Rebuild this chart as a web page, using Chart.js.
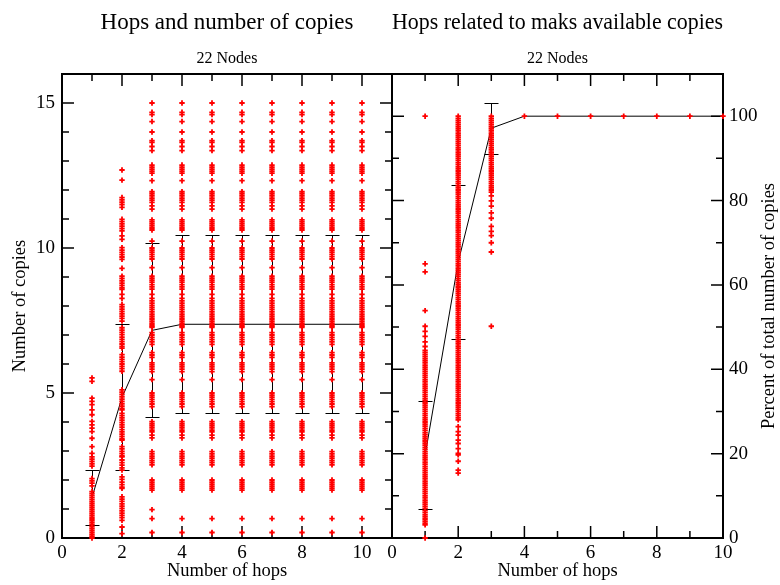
<!DOCTYPE html>
<html><head><meta charset="utf-8">
<script src="https://cdn.jsdelivr.net/npm/chart.js@4.4.1/dist/chart.umd.min.js"></script>
<style>
html,body{margin:0;padding:0;background:#fff;}
#wrap{position:relative;width:780px;height:585px;overflow:hidden;background:#fff;}
canvas{position:absolute;top:0;}
#c1{left:0;} #c2{left:360px;}
</style></head><body>
<div id="wrap"><canvas id="c1" width="393" height="585"></canvas><canvas id="c2" width="420" height="585"></canvas></div>
<script>
// ---------- data ----------
const hops = [1, 2, 3, 4, 5, 6, 7, 8, 9, 10];

// Left panel: number of copies observed at each hop count
const copiesHop1 = [5.52, 5.4, 4.82, 4.71, 4.6, 4.42, 4.25, 4.02, 3.9, 3.79, 3.67, 3.44, 3.15, 2.92, 2.8, 2.72, 2.64, 2.56, 2.48,
  2.05, 1.97, 1.89, 1.8, 1.6, 1.53, 1.46, 1.39, 1.32, 1.25, 1.18, 1.11, 1.04, 0.97, 0.9, 0.83, 0.76, 0.69, 0.62, 0.55,
  0.48, 0.41, 0.34, 0.27, 0.2, 0.13, 0.06, 0];
const copiesHop2 = [12.69, 12.34, 11.74, 11.66, 11.58, 11.5, 11.4, 10.99, 10.91, 10.83, 10.75, 10.67, 10.59, 10.42, 10.3,
  10.01, 9.93, 9.85, 9.77, 9.69, 9.61, 9.3, 9.03, 8.95, 8.87, 8.79, 8.71, 8.63, 8.57, 8.4, 8.26, 8.05, 7.97, 7.89, 7.81,
  7.73, 7.65, 7.57, 7.48, 7.25, 7.17, 7.09, 7.01, 6.93, 6.85, 6.77, 6.69, 6.61, 6.55, 6.32, 6.24, 6.16, 6.08, 6.0, 5.92,
  5.84, 5.75, 5.11, 5.03, 4.95, 4.87, 4.79, 4.71, 4.63, 4.55, 4.47, 4.42, 4.3, 4.22, 4.14, 4.06, 3.98, 3.9, 3.82, 3.74,
  3.66, 3.58, 3.5, 3.42, 3.38, 3.15, 3.07, 2.99, 2.91, 2.83, 2.8, 2.69, 2.6, 2.51, 2.42, 2.34, 2.11, 2.02, 1.93, 1.84,
  1.75, 1.71, 1.42, 1.34, 1.26, 1.18, 1.1, 1.02, 0.94, 0.86, 0.78, 0.7, 0.61, 0.38, 0.15];
const copiesHop3 = [15.0, 14.68, 14.6, 14.36, 14.0, 13.7, 13.64, 13.5, 13.36, 12.86, 12.79, 12.72, 12.65, 12.58, 12.32,
  11.94, 11.87, 11.8, 11.72, 11.65, 11.57, 11.45, 11.34, 10.97, 10.9, 10.83, 10.76, 10.69, 10.62, 10.24,
  10.0, 9.93, 9.86, 9.78, 9.7, 9.62, 9.32, 9.03, 8.96, 8.89, 8.82, 8.74, 8.66, 8.58, 8.4, 8.26,
  8.18, 8.1, 8.02, 7.95, 7.88, 7.8, 7.72, 7.65, 7.58, 7.52, 7.45, 7.38, 7.31, 7.26,
  7.08, 7.0, 6.92, 6.84, 6.76, 6.68, 6.39, 6.31, 6.23, 6.04, 5.97, 5.9, 5.82, 5.74, 5.46,
  5.0, 4.93, 4.86, 4.78, 4.7, 4.62, 4.53, 4.01, 3.94, 3.87, 3.8, 3.72, 3.66, 3.55, 3.45,
  2.98, 2.9, 2.82, 2.75, 2.67, 2.6, 2.52, 2.0, 1.93, 1.86, 1.79, 1.72, 1.65, 0.98, 0.67, 0.19];
// columns 4..10 show the same set of values
const copiesHop4to10 = [15.0, 14.68, 14.6, 14.36, 14.0, 13.7, 13.64, 13.5, 13.36, 12.86, 12.79, 12.72, 12.65, 12.58, 12.32,
  11.94, 11.87, 11.8, 11.72, 11.65, 11.57, 11.45, 11.34, 10.97, 10.9, 10.83, 10.76, 10.69, 10.62, 10.24,
  10.0, 9.93, 9.86, 9.78, 9.7, 9.62, 9.32, 9.03, 8.96, 8.89, 8.82, 8.74, 8.66, 8.58, 8.4, 8.26,
  8.18, 8.1, 8.02, 7.95, 7.88, 7.8, 7.72, 7.65, 7.58, 7.52, 7.45, 7.38, 7.31, 7.26,
  7.08, 7.0, 6.92, 6.84, 6.76, 6.68, 6.39, 6.31, 6.23, 6.04, 5.97, 5.9, 5.82, 5.74, 5.46,
  5.0, 4.93, 4.86, 4.78, 4.7, 4.62, 4.53, 4.01, 3.94, 3.87, 3.8, 3.72, 3.66, 3.55, 3.45,
  2.98, 2.9, 2.82, 2.75, 2.67, 2.6, 2.52, 2.0, 1.93, 1.86, 1.79, 1.72, 1.65, 0.67, 0.19];
const copiesMean = [1.4, 4.85, 7.16, 7.37, 7.37, 7.37, 7.37, 7.37, 7.37, 7.37];
const copiesStd  = [0.95, 2.52, 3.0, 3.07, 3.07, 3.07, 3.07, 3.07, 3.07, 3.07];

// Right panel: percent of total number of copies reached at each hop count
const pctHop1 = [100, 65.0, 63.1, 53.9, 50.2, 49.0, 47.8, 46.5, 45.4, 44.5, 44, 43.5, 43, 42.5, 42, 41.5, 41, 40.5, 40,
  39.5, 39, 38.5, 38, 37.5, 37, 36.5, 36, 35.5, 35, 34.5, 34, 33.5, 33, 32.5, 32, 31.5, 31, 30.5, 30, 29.5, 29, 28.5, 28,
  27.5, 27, 26.5, 26, 25.5, 25, 24.5, 24, 23.5, 23, 22.5, 22, 21.5, 21, 20.5, 20, 19.5, 19, 18.5, 18, 17.5, 17, 16.5, 16,
  15.5, 15, 14.5, 14, 13.5, 13, 12.5, 12, 11.5, 11, 10.5, 10, 9.5, 9, 8.5, 8, 7.5, 7, 6.5, 6, 5.5, 5, 4.5, 4, 3.5, 3.1, 0];
const pctHop2 = [100, 99.5, 99, 98.5, 98, 97.5, 97, 96.5, 96, 95.5, 95, 94.5, 94, 93.5, 93, 92.5, 92, 91.5, 91, 90.5, 90,
  89.5, 89, 88.5, 88, 87.5, 87, 86.5, 86, 85.5, 85, 84.5, 84, 83.5, 83, 82.5, 82, 81.5, 81, 80.5, 80, 79.5, 79, 78.5, 78,
  77.5, 77, 76.5, 76, 75.5, 75, 74.5, 74, 73.5, 73, 72.5, 72, 71.5, 71, 70.5, 70, 69.5, 69, 68.5, 68, 67.5, 67, 66.5, 66,
  65.5, 65, 64.5, 64, 63.5, 63, 62.5, 62, 61.5, 61, 60.5, 60, 59.5, 59, 58.5, 58, 57.5, 57, 56.5, 56, 55.5, 55, 54.5, 54,
  53.5, 53, 52.5, 52, 51.5, 51, 50.5, 50, 49.5, 49, 48.5, 48, 47.5, 47, 46.5, 46, 45.5, 45, 44.5, 44, 43.5, 43, 42.5, 42,
  41.5, 41, 40.5, 40, 39.5, 39, 38.5, 38, 37.5, 37, 36.5, 36, 35.5, 35, 34.5, 34, 33.5, 33, 32.5, 32, 31.5, 31, 30.5, 30,
  29.5, 29, 28.5, 28, 26.4, 25.2, 24.4, 23.2, 22.4, 21.2, 20.05, 19.7, 18.2, 16.1, 15.4];
const pctHop3 = [100, 99.5, 99, 98.5, 98, 97.5, 97, 96.5, 96, 95.5, 95, 94.5, 94, 93.5, 93, 92.5, 92, 91.5, 91, 90.5, 90,
  89.5, 89, 88.5, 88, 87.5, 87, 86.5, 86, 85.5, 85, 84.5, 84, 83.5, 83, 82.5, 82, 81.1, 79.9, 78.7, 77.1,
  75.8, 73.9, 72.7, 71.7, 70.0, 67.8, 50.2];
const pctHop4to10 = [100];
const pctMean = [19.6, 65.4, 97.15, 100, 100, 100, 100, 100, 100, 100];
const pctStd  = [12.8, 18.2, 6.05, 0, 0, 0, 0, 0, 0, 0];

// tick settings
const leftXTicks = {min: 0, max: 11, step: 2};
const leftYTicks = {min: 0, max: 16, step: 5};
const rightXTicks = {min: 0, max: 10, step: 2};
const rightYTicks = {min: 0, max: 110, step: 20};

// ---------- helpers ----------
function col(h, vals) { return vals.map(v => ({x: h, y: v})); }
const leftPoints = [].concat(col(1, copiesHop1), col(2, copiesHop2), col(3, copiesHop3),
  ...hops.slice(3).map(h => col(h, copiesHop4to10)));
const rightPoints = [].concat(col(1, pctHop1), col(2, pctHop2), col(3, pctHop3),
  ...hops.slice(3).map(h => col(h, pctHop4to10)));
const leftMeanLine = hops.map((h, i) => ({x: h, y: copiesMean[i]}));
const rightMeanLine = hops.map((h, i) => ({x: h, y: pctMean[i]}));

const SERIF = "'Liberation Serif', 'DejaVu Serif', serif";
Chart.defaults.font.family = SERIF;
Chart.defaults.color = '#000';

const frameTicks = {
  id: 'frameTicks',
  beforeDatasetsDraw(chart, args, opts) {
    const {ctx, chartArea: a} = chart;
    const x = chart.scales.x, y = chart.scales.y;
    ctx.save();
    ctx.strokeStyle = '#000';
    ctx.lineWidth = 1.5;
    ctx.beginPath();
    const isMaj = (v, m) => Math.abs(v / m - Math.round(v / m)) < 1e-6;
    for (let v = x.min; v <= x.max + 1e-9; v += opts.xMinor) {
      const px = x.getPixelForValue(v);
      const len = isMaj(v, opts.xMajor) ? 12 : 7;
      ctx.moveTo(px, a.bottom); ctx.lineTo(px, a.bottom - len);
      ctx.moveTo(px, a.top); ctx.lineTo(px, a.top + len);
    }
    for (let v = y.min; v <= y.max + 1e-9; v += opts.yMinor) {
      const py = y.getPixelForValue(v);
      const len = isMaj(v, opts.yMajor) ? 12 : 7;
      ctx.moveTo(a.left, py); ctx.lineTo(a.left + len, py);
      ctx.moveTo(a.right, py); ctx.lineTo(a.right - len, py);
    }
    ctx.stroke();
    ctx.lineWidth = 2;
    ctx.strokeRect(a.left, a.top, a.right - a.left, a.bottom - a.top);
    ctx.restore();
  }
};

const errorBars = {
  id: 'errorBars',
  beforeDatasetsDraw(chart, args, opts) {
    const {ctx} = chart;
    const x = chart.scales.x, y = chart.scales.y;
    ctx.save();
    ctx.strokeStyle = '#000';
    ctx.lineWidth = 1;
    ctx.beginPath();
    opts.x.forEach((h, i) => {
      const s = opts.std[i];
      if (!s) return;
      const px = Math.round(x.getPixelForValue(h)) + 0.5;
      const t = Math.round(y.getPixelForValue(opts.mean[i] + s)) + 0.5;
      const b = Math.round(y.getPixelForValue(opts.mean[i] - s)) + 0.5;
      ctx.moveTo(px, t); ctx.lineTo(px, b);
      ctx.moveTo(px - 7, t); ctx.lineTo(px + 7, t);
      ctx.moveTo(px - 7, b); ctx.lineTo(px + 7, b);
    });
    ctx.stroke();
    ctx.restore();
  }
};

const sideTitle = {
  id: 'sideTitle',
  afterDraw(chart, args, opts) {
    if (!opts.text) return;
    const {ctx, chartArea: a} = chart;
    ctx.save();
    ctx.fillStyle = '#000';
    ctx.font = opts.font;
    ctx.textAlign = 'center';
    ctx.textBaseline = 'middle';
    ctx.translate(opts.x, (a.top + a.bottom) / 2);
    ctx.rotate(-Math.PI / 2);
    ctx.fillText(opts.text, 0, 0);
    ctx.restore();
  }
};

function makeChart(canvas, cfg) {
  const yRight = cfg.yPos === 'right';
  return new Chart(canvas, {
    type: 'scatter',
    data: {
      datasets: [
        {data: cfg.points, pointStyle: 'cross', pointRadius: 2.7, pointBorderWidth: 1.8,
         borderColor: '#ff0000', backgroundColor: '#ff0000', showLine: false, clip: false, order: 0},
        {data: cfg.mean, showLine: true, borderColor: '#000', borderWidth: 1, pointRadius: 0,
         fill: false, tension: 0, clip: false, order: 1}
      ]
    },
    options: {
      responsive: false,
      animation: false,
      devicePixelRatio: 1,
      layout: {padding: cfg.padding, autoPadding: false},
      plugins: {
        legend: {display: false},
        tooltip: {enabled: false},
        title: {display: true, text: cfg.title, fullSize: false, color: '#000',
                font: {size: 23, weight: 'normal', family: SERIF}, padding: {top: 9, bottom: 7.4}},
        subtitle: {display: true, text: '22 Nodes', fullSize: false, color: '#000',
                font: {size: 16, weight: 'normal', family: SERIF}, padding: {top: 5.4, bottom: 5.4}},
        frameTicks: cfg.frame,
        errorBars: {x: hops, mean: cfg.meanVals, std: cfg.stdVals},
        sideTitle: cfg.side || {}
      },
      scales: {
        x: {
          type: 'linear', position: 'bottom',
          min: cfg.xt.min, max: cfg.xt.max,
          ticks: {stepSize: cfg.xt.step, includeBounds: false, padding: 4, maxRotation: 0,
                  font: {size: 19, family: SERIF}, color: '#000'},
          grid: {display: false, drawTicks: false},
          border: {display: false},
          title: {display: true, text: 'Number of hops', color: '#000',
                  font: {size: 18.5, family: SERIF}, padding: {top: 0, bottom: 3}},
          afterFit(s) { s.height = 47; s.paddingLeft = 0; s.paddingRight = 0; }
        },
        y: {
          type: 'linear', position: cfg.yPos,
          min: cfg.yt.min, max: cfg.yt.max,
          ticks: {stepSize: cfg.yt.step, includeBounds: false, padding: yRight ? 6 : 7,
                  font: {size: 19, family: SERIF}, color: '#000'},
          grid: {display: false, drawTicks: false},
          border: {display: false},
          title: {display: !yRight, text: 'Number of copies', color: '#000',
                  font: {size: 18.5, family: SERIF}, padding: {top: 9, bottom: 0}},
          afterFit(s) { s.width = cfg.yWidth; s.paddingTop = 0; s.paddingBottom = 0; }
        }
      }
    },
    plugins: [frameTicks, errorBars, sideTitle]
  });
}

makeChart(document.getElementById('c1'), {
  title: 'Hops and number of copies',
  points: leftPoints, mean: leftMeanLine, meanVals: copiesMean, stdVals: copiesStd,
  xt: leftXTicks, yt: leftYTicks, yPos: 'left', yWidth: 62,
  padding: {left: 0, right: 1, top: 0, bottom: 0},
  frame: {xMinor: 1, xMajor: 2, yMinor: 1, yMajor: 5}
});

makeChart(document.getElementById('c2'), {
  title: 'Hops related to maks available copies',
  points: rightPoints, mean: rightMeanLine, meanVals: pctMean, stdVals: pctStd,
  xt: rightXTicks, yt: rightYTicks, yPos: 'right', yWidth: 57,
  padding: {left: 32, right: 0, top: 0, bottom: 0},
  frame: {xMinor: 1, xMajor: 2, yMinor: 10, yMajor: 20},
  side: {text: 'Percent of total number of copies', x: 409, font: "18.5px " + SERIF}
});
</script>
</body></html>
